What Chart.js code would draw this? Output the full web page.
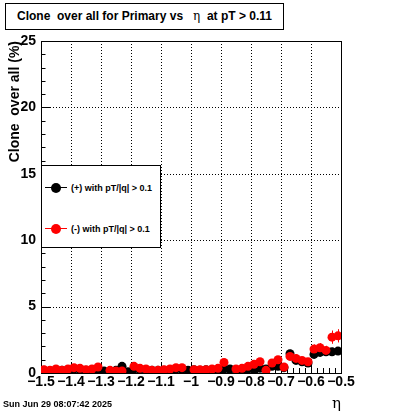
<!DOCTYPE html>
<html>
<head>
<meta charset="utf-8">
<script src="https://cdn.jsdelivr.net/npm/chart.js@4.4.1/dist/chart.umd.min.js"></script>
<style>
  body { margin: 0; background: #fff; }
  #wrap { position: relative; width: 400px; height: 414px; font-family: 'Liberation Sans', Arial, sans-serif; color: #000; }
  #c { position: absolute; left: 0; top: 0; }
  .title { position: absolute; left: 5px; top: 3px; width: 277px; height: 25px; border: 1px solid #000; background: #fff;
           font-weight: bold; font-size: 12px; line-height: 25px; text-align: center; white-space: pre; color: #000; }
  .title .g { font-family: 'DejaVu Serif', serif; font-weight: normal; color: #000; }
  .date { position: absolute; left: 3px; top: 399px; font-weight: bold; font-size: 9px; white-space: pre; }
  .legend { position: absolute; left: 41px; top: 165px; width: 118px; height: 81px; border: 1px solid #000; background: #fff; }
  .row { position: absolute; left: 0; height: 12px; width: 118px; }
  .row .ln { position: absolute; left: 3px; top: 5px; width: 22px; height: 0; border-top: 1px solid; }
  .row .mk { position: absolute; left: 9px; top: 1px; width: 10px; height: 10px; border-radius: 50%; }
  .row .tx { position: absolute; left: 29px; top: 0; font-size: 9px; font-weight: bold; line-height: 12px; white-space: pre; }
</style>
</head>
<body>
<div id="wrap">
  <canvas id="c" width="400" height="414"></canvas>
  <div class="title">Clone  over all for Primary vs   <span class="g">η</span>  at pT &gt; 0.11</div>
  <div class="legend" id="legend"></div>
  <div class="date">Sun Jun 29 08:07:42 2025</div>
</div>
<script>
// eta bin centres (bin width 0.02)
const eta = [-1.49, -1.47, -1.45, -1.43, -1.41, -1.39, -1.37, -1.35, -1.33, -1.31,
             -1.29, -1.27, -1.25, -1.23, -1.21, -1.19, -1.17, -1.15, -1.13, -1.11,
             -1.09, -1.07, -1.05, -1.03, -1.01, -0.99, -0.97, -0.95, -0.93, -0.91,
             -0.89, -0.87, -0.85, -0.83, -0.81, -0.79, -0.77, -0.75, -0.73, -0.71,
             -0.69, -0.67, -0.65, -0.63, -0.61, -0.59, -0.57, -0.55, -0.53, -0.51];

// (+) with pT/|q| > 0.1
const posVals = [0.2, 0.15, 0.25, 0.2, 0.25, 0.3, 0.3, 0.2, 0.25, 0.3,
                 0.15, 0.1, 0.2, 0.5, 0.1, 0.3, 0.3, 0.25, 0.2, 0.2,
                 0.2, 0.25, 0.3, 0.3, 0.2, 0.25, 0.2, 0.25, 0.25, 0.25,
                 0.3, 0.3, 0.25, 0.2, 0.3, 0.25, 0.35, 0.3, 0.5, 0.5,
                 0.4, 1.45, 0.95, 0.85, 0.75, 1.4, 1.55, 1.6, 1.6, 1.65];
const posErr = [0.1, 0.1, 0.1, 0.1, 0.1, 0.1, 0.1, 0.1, 0.1, 0.1,
                0.1, 0.1, 0.1, 0.15, 0.1, 0.1, 0.1, 0.1, 0.1, 0.1,
                0.1, 0.1, 0.1, 0.1, 0.1, 0.1, 0.1, 0.1, 0.1, 0.1,
                0.1, 0.1, 0.1, 0.1, 0.1, 0.1, 0.15, 0.15, 0.2, 0.2,
                0.2, 0.3, 0.25, 0.25, 0.25, 0.3, 0.3, 0.3, 0.3, 0.3];

// (-) with pT/|q| > 0.1
const negVals = [0.25, 0.2, 0.3, 0.2, 0.3, 0.4, 0.35, 0.25, 0.3, 0.45,
                 null, 0.2, 0.15, 0.15, null, 0.5, 0.35, 0.3, 0.2, 0.2,
                 0.25, 0.3, 0.4, 0.4, null, 0.25, 0.25, 0.25, 0.3, 0.35,
                 0.8, null, 0.3, 0.35, 0.5, 0.65, 0.85, 0.2, 0.75, 1.0,
                 0.45, 1.25, 1.1, 0.95, 0.85, 1.8, 1.9, 1.7, 2.7, 2.8];
const negErr = [0.1, 0.1, 0.1, 0.1, 0.1, 0.1, 0.1, 0.1, 0.1, 0.15,
                0, 0.1, 0.1, 0.1, 0, 0.15, 0.1, 0.1, 0.1, 0.1,
                0.1, 0.1, 0.15, 0.15, 0, 0.1, 0.1, 0.1, 0.1, 0.1,
                0.2, 0, 0.1, 0.15, 0.15, 0.2, 0.2, 0.1, 0.2, 0.25,
                0.2, 0.3, 0.3, 0.25, 0.25, 0.35, 0.35, 0.35, 0.5, 0.5];

const xTicksMajor = [-1.5, -1.4, -1.3, -1.2, -1.1, -1.0, -0.9, -0.8, -0.7, -0.6, -0.5];
const yTicksMajor = [0, 5, 10, 15, 20, 25];

const series = [
  { label: '(-) with pT/|q| > 0.1', vals: negVals, err: negErr, color: '#ff0000' },
  { label: '(+) with pT/|q| > 0.1', vals: posVals, err: posErr, color: '#000000' }
];

const FONT = "'Liberation Sans', Arial, sans-serif";

// ROOT-like frame, dotted grid, inward ticks and error bars
const rootFrame = {
  id: 'rootFrame',
  beforeDatasetsDraw(chart) {
    const { ctx, chartArea: a, scales: { x, y } } = chart;
    ctx.save();
    ctx.strokeStyle = '#000';
    ctx.lineWidth = 1;
    // dotted grid
    ctx.setLineDash([1, 2]);
    ctx.beginPath();
    xTicksMajor.slice(1, -1).forEach(v => {
      const px = Math.round(x.getPixelForValue(v)) + 0.5;
      ctx.moveTo(px, a.top); ctx.lineTo(px, a.bottom);
    });
    yTicksMajor.slice(1, -1).forEach(v => {
      const py = Math.round(y.getPixelForValue(v)) + 0.5;
      ctx.moveTo(a.left, py); ctx.lineTo(a.right, py);
    });
    ctx.stroke();
    ctx.setLineDash([]);
    // ticks
    ctx.beginPath();
    for (let i = 0; i <= 50; i++) {
      const v = -1.5 + i * 0.02;
      const px = Math.round(x.getPixelForValue(v)) + 0.5;
      const len = i % 5 === 0 ? 10 : 5;
      ctx.moveTo(px, a.bottom); ctx.lineTo(px, a.bottom - len);
    }
    for (let i = 0; i <= 25; i++) {
      const py = Math.round(y.getPixelForValue(i)) + 0.5;
      const len = i % 5 === 0 ? 9 : 4.5;
      ctx.moveTo(a.left, py); ctx.lineTo(a.left + len, py);
    }
    ctx.stroke();
    // frame
    ctx.strokeRect(Math.round(a.left) + 0.5, Math.round(a.top) + 0.5,
                   Math.round(a.right - a.left), Math.round(a.bottom - a.top));
    // error bars
    series.slice().reverse().forEach(s => {
      ctx.strokeStyle = s.color;
      ctx.beginPath();
      s.vals.forEach((v, i) => {
        if (v === null) return;
        const px = Math.round(x.getPixelForValue(eta[i])) + 0.5;
        ctx.moveTo(px, y.getPixelForValue(v - s.err[i]));
        ctx.lineTo(px, y.getPixelForValue(v + s.err[i]));
        const hx0 = x.getPixelForValue(eta[i] - 0.01), hx1 = x.getPixelForValue(eta[i] + 0.01);
        const py = Math.round(y.getPixelForValue(v)) + 0.5;
        ctx.moveTo(hx0, py); ctx.lineTo(hx1, py);
      });
      ctx.stroke();
    });
    ctx.restore();
  }
};

const fmt = v => {
  const r = Math.round(v * 10) / 10;
  return (r < 0 ? '\u2212' : '') + Math.abs(r).toString();
};

new Chart(document.getElementById('c'), {
  type: 'scatter',
  data: {
    datasets: series.map((s, k) => ({
      label: s.label,
      data: eta.map((e, i) => ({ x: e, y: s.vals[i] })),
      backgroundColor: s.color,
      borderColor: s.color,
      pointRadius: 4.5,
      pointHoverRadius: 4.5,
      borderWidth: 0,
      order: k
    }))
  },
  options: {
    responsive: false,
    animation: false,
    layout: { padding: { top: 41, right: 59, left: 0, bottom: 0 } },
    plugins: { legend: { display: false }, tooltip: { enabled: false } },
    scales: {
      x: {
        type: 'linear', min: -1.5, max: -0.5,
        afterFit: s => { s.height = 41; },
        grid: { display: false, drawTicks: false },
        border: { display: false },
        ticks: { stepSize: 0.1, padding: 1, color: '#000', maxRotation: 0, autoSkip: false,
                 font: { family: FONT, size: 14, weight: 'bold' }, callback: fmt },
        title: { display: true, text: 'η', align: 'end', color: '#000',
                 font: { family: "'DejaVu Serif', serif", size: 15, lineHeight: 1 }, padding: { top: 0, bottom: 2 } }
      },
      y: {
        min: 0, max: 25,
        afterFit: s => { s.width = 41; },
        grid: { display: false, drawTicks: false },
        border: { display: false },
        ticks: { stepSize: 5, padding: 5, color: '#000',
                 font: { family: FONT, size: 14, weight: 'bold' } },
        title: { display: true, text: 'Clone  over all (%)', align: 'end', color: '#000',
                 font: { family: FONT, size: 14, weight: 'bold', lineHeight: 1 }, padding: { top: 8, bottom: 0 } }
      }
    }
  },
  plugins: [rootFrame]
});

// legend (plus first, minus second, as in the picture)
const legend = document.getElementById('legend');
[series[1], series[0]].forEach((s, i) => {
  const row = document.createElement('div');
  row.className = 'row';
  row.style.top = (i === 0 ? 16 : 57) + 'px';
  row.innerHTML = `<span class="ln" style="border-color:${s.color}"></span>` +
                  `<span class="mk" style="background:${s.color}"></span>` +
                  `<span class="tx">${s.label.replace('>', '&gt;')}</span>`;
  legend.appendChild(row);
});
</script>
</body>
</html>
